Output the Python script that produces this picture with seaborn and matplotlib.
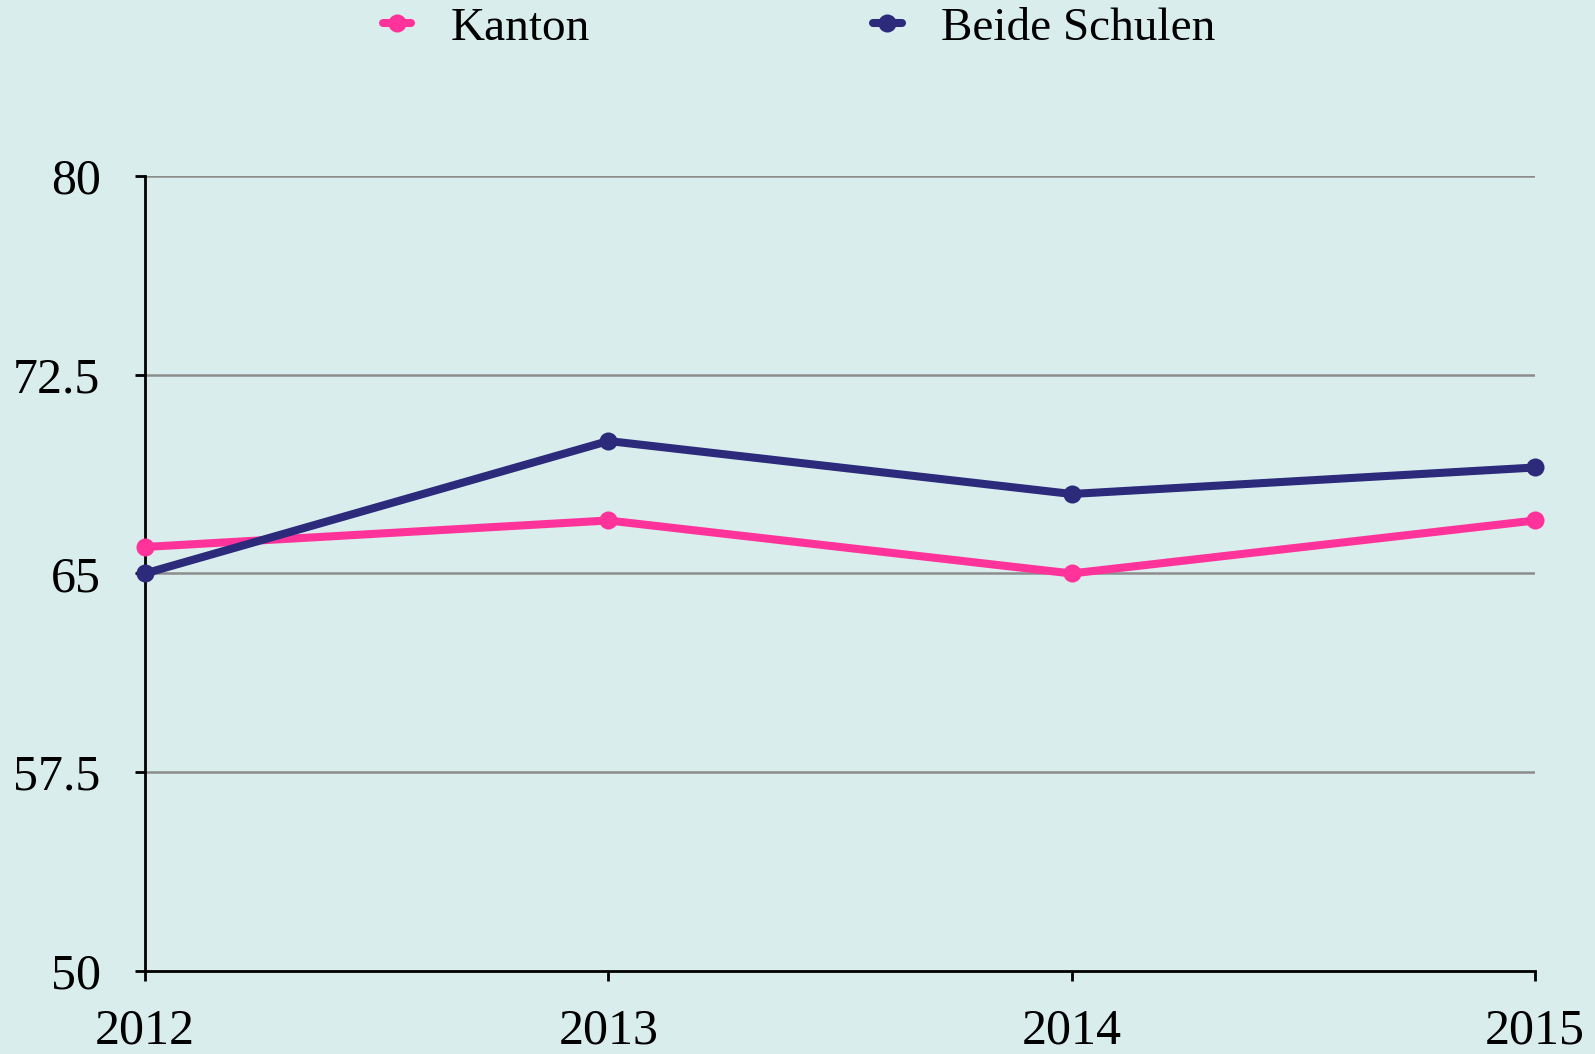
import matplotlib
matplotlib.use("Agg")
import matplotlib.pyplot as plt
import seaborn as sns
import pandas as pd

years = [2012, 2013, 2014, 2015]
kanton = [66, 67, 65, 67]
beide_schulen = [65, 70, 68, 69]
series_names = ["Kanton", "Beide Schulen"]
y_ticks = [50, 57.5, 65, 72.5, 80]
y_tick_labels = ["50", "57.5", "65", "72.5", "80"]

bg = "#DAEDED"
colors = {"Kanton": "#FF3399", "Beide Schulen": "#2B2A7B"}

df = pd.DataFrame({
    "Jahr": years * 2,
    "Wert": kanton + beide_schulen,
    "Serie": [series_names[0]] * len(years) + [series_names[1]] * len(years),
})

sns.set_style("white")
plt.rcParams["font.family"] = ["Liberation Serif", "DejaVu Serif"]
plt.rcParams["text.color"] = "black"

fig = plt.figure(figsize=(15.95, 10.54), dpi=100, facecolor=bg)
ax = fig.add_axes([0.0909, 0.0788, 0.8715, 0.7542])
ax.set_facecolor(bg)

sns.lineplot(data=df, x="Jahr", y="Wert", hue="Serie", hue_order=series_names,
             palette=colors, marker="o", markersize=13, markeredgewidth=0,
             linewidth=5.8, ax=ax, zorder=3, clip_on=False)

ax.set_xlim(2012, 2015)
ax.set_ylim(50, 80)
ax.set_xticks(years)
ax.set_xticklabels([str(y) for y in years])
ax.set_yticks(y_ticks)
ax.set_yticklabels(y_tick_labels)
ax.set_xlabel("")
ax.set_ylabel("")

for y in y_ticks[1:]:
    ax.axhline(y, color="#8C8C8C", linewidth=1.8, zorder=1)

for s in ["top", "right"]:
    ax.spines[s].set_visible(False)
for s in ["left", "bottom"]:
    ax.spines[s].set_color("black")
    ax.spines[s].set_linewidth(2)
    ax.spines[s].set_zorder(2)

ax.tick_params(axis="both", which="both", direction="out", length=7, width=2,
               color="black", labelsize=36, labelcolor="black")
ax.tick_params(axis="y", pad=25, left=True)
ax.tick_params(axis="x", pad=20, bottom=True)

handles, labels = ax.get_legend_handles_labels()
leg = ax.legend(handles, labels, loc="center", ncol=2, frameon=False, fontsize=34,
                handlelength=0.6, handletextpad=0.83, columnspacing=6.0,
                labelcolor="black")
leg.set_bbox_to_anchor((0.501, 0.973), transform=fig.transFigure)

fig.savefig("out.png", dpi=100, facecolor=bg)
